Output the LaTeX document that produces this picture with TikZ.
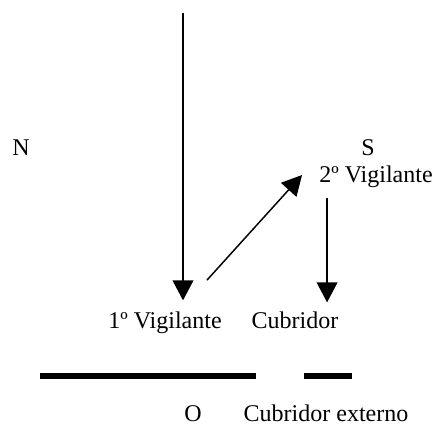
\documentclass[tikz,border=0pt]{standalone}
\usepackage{fontspec}
\setmainfont{Liberation Serif}
\usetikzlibrary{arrows.meta}
\tikzset{
  lbl/.style={anchor=base,inner sep=0pt,font=\fontsize{18}{20}\selectfont},
  arr/.style={line width=1.1pt,-{Triangle[length=15pt,width=15.5pt]}},
  wall/.style={line width=4.5pt}
}
\begin{document}
\begin{tikzpicture}[x=0.75pt,y=-0.75pt]
\useasboundingbox (0,0) rectangle (437,426);
\node[lbl] (n) at (21,155) {N};
\node[lbl] (s) at (368,155) {S};
\node[lbl] (v2) at (376,182) {2º Vigilante};
\node[lbl] (v1) at (165,328) {1º Vigilante};
\node[lbl] (cu) at (295,328) {Cubridor};
\node[lbl] (o) at (193,421) {O};
\node[lbl] (ce) at (326,421) {Cubridor externo};
\coordinate (top) at (183,13);
\draw[arr,shorten >=8pt] (top) -- (top |- v1.north);
\draw[arr] ([shift={(42,-31)}]v1.north) -- ([shift={(-17,-7)}]v2.base west);
\draw[arr,shorten >=6.5pt] ([shift={(8,11)}]v2.south west) coordinate (r1) -- (r1 |- cu.north);
% walls
\draw[wall] (40,376) -- (256,376);
\draw[wall] (304,376) -- (352,376);
\end{tikzpicture}
\end{document}
